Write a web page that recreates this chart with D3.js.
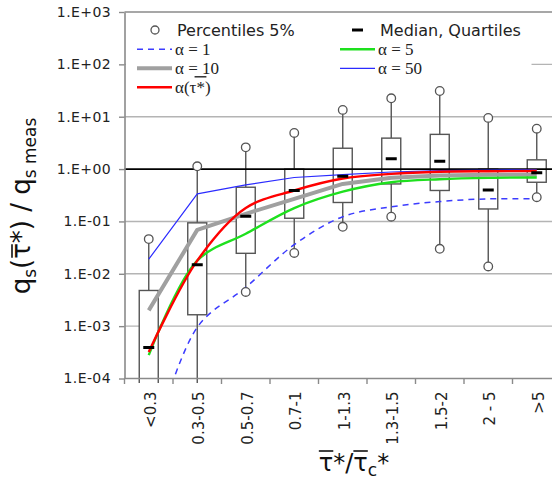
<!DOCTYPE html>
<html><head><meta charset="utf-8">
<script src="https://cdn.jsdelivr.net/npm/d3@7"></script>
<style>body{margin:0;background:#fff} svg{display:block}</style>
</head><body><svg id="c" width="552" height="483"></svg>
<script>
const categories = ["<0.3","0.3-0.5","0.5-0.7","0.7-1","1-1.3","1.3-1.5","1.5-2","2 - 5",">5"];
const pctHigh   = [0.046, 1.13, 2.6, 4.9, 13.5, 22.5, 31, 9.5, 5.9];
const quartHigh = [4.8e-3, 0.094, 0.45, 1.0, 2.5, 3.9, 4.6, 1.0, 1.5];
const medians   = [3.9e-4, 0.0149, 0.126, 0.39, 0.73, 1.57, 1.41, 0.40, 0.85];
const quartLow  = [5e-5, 1.65e-3, 0.0246, 0.115, 0.23, 0.52, 0.39, 0.173, 0.56];
const pctLow    = [1e-5, 5e-5, 4.5e-3, 0.025, 0.079, 0.123, 0.03, 0.0138, 0.29];
const alpha1   = [3e-6, 9.5e-4, 5.5e-3, 0.036, 0.123, 0.19, 0.24, 0.27, 0.27];
const alpha5   = [2.8e-4, 0.0178, 0.058, 0.18, 0.37, 0.56, 0.64, 0.68, 0.69];
const alpha10  = [2.0e-3, 0.069, 0.14, 0.27, 0.52, 0.68, 0.75, 0.78, 0.78];
const alpha50  = [0.019, 0.335, 0.50, 0.69, 0.78, 0.88, 0.93, 0.96, 0.97];
const alphaTau = [3.2e-4, 0.0178, 0.18, 0.39, 0.66, 0.81, 0.89, 0.91, 0.92];
const yTicks = [1e-4, 1e-3, 1e-2, 1e-1, 1, 10, 100, 1000];
const yTickLabels = ["1.E-04","1.E-03","1.E-02","1.E-01","1.E+00","1.E+01","1.E+02","1.E+03"];

const W = 552, H = 483;
const L = 124.5, T = 12, B = 378.5, band = 48.5;
const svg = d3.select("#c");
const x = d3.scaleBand().domain(categories).range([L, L + categories.length * band]).padding(0);
const cx = c => x(c) + x.bandwidth() / 2;
const y = d3.scaleLog().domain([1e-4, 1e3]).range([B, T]);

const defs = svg.append("defs");
defs.append("clipPath").attr("id", "lineClip").append("rect").attr("x", L).attr("y", T).attr("width", W - L).attr("height", B - T);
defs.append("clipPath").attr("id", "boxClip").append("rect").attr("x", L).attr("y", T).attr("width", W - L).attr("height", B - T + 4.5);

// gridlines
svg.append("g").selectAll("line").data(yTicks.filter(v => v !== 1 && v !== 1e-4 && v !== 1e3)).join("line")
  .attr("x1", L).attr("x2", W).attr("y1", d => y(d)).attr("y2", d => y(d))
  .attr("stroke", "#b4b4b4").attr("stroke-width", 1.4);
// top border
svg.append("line").attr("x1", L).attr("x2", W).attr("y1", y(1e3)).attr("y2", y(1e3)).attr("stroke", "#8a8a8a").attr("stroke-width", 1.6);

// legend background
svg.append("rect").attr("x", L + 1.5).attr("y", 15).attr("width", 530 - L).attr("height", 84).attr("fill", "#fff");

// boxes
const idx = categories.map((c, i) => i);
const gBox = svg.append("g").attr("clip-path", "url(#boxClip)");
gBox.selectAll("line.wu").data(idx).join("line")
  .attr("x1", i => cx(categories[i])).attr("x2", i => cx(categories[i]))
  .attr("y1", i => y(quartHigh[i])).attr("y2", i => y(pctHigh[i]))
  .attr("stroke", "#555").attr("stroke-width", 1.4);
gBox.selectAll("line.wl").data(idx).join("line")
  .attr("x1", i => cx(categories[i])).attr("x2", i => cx(categories[i]))
  .attr("y1", i => y(quartLow[i])).attr("y2", i => y(pctLow[i]))
  .attr("stroke", "#555").attr("stroke-width", 1.4);
gBox.selectAll("rect").data(idx).join("rect")
  .attr("x", i => cx(categories[i]) - 9.5).attr("width", 19)
  .attr("y", i => y(quartHigh[i])).attr("height", i => y(quartLow[i]) - y(quartHigh[i]))
  .attr("fill", "#fff").attr("stroke", "#555").attr("stroke-width", 1.4);

// reference line at 1
svg.append("line").attr("x1", L).attr("x2", W).attr("y1", y(1)).attr("y2", y(1)).attr("stroke", "#000").attr("stroke-width", 1.8);

// model lines
const gLines = svg.append("g").attr("clip-path", "url(#lineClip)");
const series = [
  {v: alpha1, color: "#3c3cff", w: 1.5, dash: "6,5", curve: d3.curveCatmullRom},
  {v: alpha50, color: "#2b2bff", w: 1.2, dash: null, curve: d3.curveLinear},
  {v: alpha10, color: "#a0a0a0", w: 4, dash: null, curve: d3.curveLinear},
  {v: alpha5, color: "#1ee01e", w: 2.4, dash: null, curve: d3.curveCatmullRom},
  {v: alphaTau, color: "#ff0000", w: 2.4, dash: null, curve: d3.curveCatmullRom}
];
series.forEach(s => {
  const line = d3.line().x((d, i) => cx(categories[i])).y(d => y(d)).curve(s.curve);
  gLines.append("path").attr("d", line(s.v)).attr("fill", "none").attr("stroke", s.color)
    .attr("stroke-width", s.w).attr("stroke-dasharray", s.dash).attr("stroke-linejoin", "round");
});

// percentile circles
const gC = svg.append("g").attr("clip-path", "url(#lineClip)");
gC.selectAll("circle.h").data(idx).join("circle").attr("cx", i => cx(categories[i])).attr("cy", i => y(pctHigh[i]))
  .attr("r", 4.3).attr("fill", "#fff").attr("stroke", "#555").attr("stroke-width", 1.3);
gC.selectAll("circle.l").data(idx).join("circle").attr("cx", i => cx(categories[i])).attr("cy", i => y(pctLow[i]))
  .attr("r", 4.3).attr("fill", "#fff").attr("stroke", "#555").attr("stroke-width", 1.3);
// medians
gC.selectAll("line.m").data(idx).join("line")
  .attr("x1", i => cx(categories[i]) - 5.5).attr("x2", i => cx(categories[i]) + 5.5)
  .attr("y1", i => y(medians[i])).attr("y2", i => y(medians[i]))
  .attr("stroke", "#000").attr("stroke-width", 3);

// y axis
const yAxis = d3.axisLeft(y).tickValues(yTicks).tickFormat((d, i) => yTickLabels[i]).tickSize(5.5).tickSizeOuter(0).tickPadding(8);
const gy = svg.append("g").attr("transform", `translate(${L},0)`).call(yAxis);
gy.select(".domain").attr("stroke", "#8a8a8a").attr("stroke-width", 1.6);
gy.selectAll(".tick line").attr("stroke", "#8a8a8a").attr("stroke-width", 1.4);
gy.selectAll(".tick text").attr("font-family", "DejaVu Sans").attr("font-size", 14).attr("fill", "#222").attr("letter-spacing", 0.4);

// x axis
svg.append("line").attr("x1", L).attr("x2", W).attr("y1", B).attr("y2", B).attr("stroke", "#8a8a8a").attr("stroke-width", 1.6);
svg.append("g").selectAll("line").data(categories).join("line")
  .attr("x1", c => x(c)).attr("x2", c => x(c)).attr("y1", B).attr("y2", B + 5.5)
  .attr("stroke", "#8a8a8a").attr("stroke-width", 1.4);
svg.append("g").selectAll("text").data(categories).join("text")
  .attr("transform", c => `translate(${cx(c) + 1.5},${B + 13}) rotate(-90)`)
  .attr("text-anchor", "end").attr("dy", "0.35em")
  .attr("font-family", "DejaVu Sans").attr("font-size", 15).attr("fill", "#222")
  .text(c => c);

// y title
const gyt = svg.append("g").attr("transform", "translate(30,206) rotate(-90)");
const yt = gyt.append("text").attr("text-anchor", "middle").attr("font-family", "DejaVu Sans").attr("font-size", 26).attr("fill", "#111");
yt.append("tspan").text("q");
yt.append("tspan").attr("font-size", 17).attr("dy", 6).text("s");
yt.append("tspan").attr("dy", -6).text("(τ*) / q");
yt.append("tspan").attr("font-size", 17).attr("dy", 6).text("s meas");
{
  const n = yt.node();
  const s = n.getStartPositionOfChar(3), e = n.getEndPositionOfChar(3);
  gyt.append("line").attr("x1", s.x + 1).attr("x2", e.x - 1).attr("y1", s.y - 18).attr("y2", s.y - 18).attr("stroke", "#111").attr("stroke-width", 1.6);
}

// x title
const xt = svg.append("text").attr("x", 354).attr("y", 471).attr("text-anchor", "middle")
  .attr("font-family", "DejaVu Sans").attr("font-size", 24).attr("fill", "#111");
xt.append("tspan").text("τ*/τ");
xt.append("tspan").attr("font-size", 17).attr("dy", 5).text("c");
xt.append("tspan").attr("dy", -5).text("*");
{
  const n = xt.node();
  [0, 3].forEach(k => {
    const s = n.getStartPositionOfChar(k), e = n.getEndPositionOfChar(k);
    svg.append("line").attr("x1", s.x).attr("x2", e.x).attr("y1", 451).attr("y2", 451).attr("stroke", "#111").attr("stroke-width", 1.6);
  });
}

// legend
const lg = svg.append("g");
lg.append("circle").attr("cx", 155).attr("cy", 30).attr("r", 4).attr("fill", "#fff").attr("stroke", "#555").attr("stroke-width", 1.3);
lg.append("text").attr("x", 177).attr("y", 35.5).attr("font-family", "DejaVu Sans").attr("font-size", 16).attr("fill", "#222").text("Percentiles 5%");
lg.append("line").attr("x1", 352).attr("x2", 363).attr("y1", 30).attr("y2", 30).attr("stroke", "#000").attr("stroke-width", 3);
lg.append("text").attr("x", 380).attr("y", 35.5).attr("font-family", "DejaVu Sans").attr("font-size", 16).attr("fill", "#222").text("Median, Quartiles");
const legItems = [
  {x: 137, y: 49.3, s: series[0], label: "α = 1"},
  {x: 340, y: 49.3, s: series[3], label: "α = 5"},
  {x: 137, y: 68.3, s: series[2], label: "α = 10"},
  {x: 340, y: 68.3, s: series[1], label: "α = 50"},
  {x: 137, y: 87.3, s: series[4], label: "α(τ*)"}
];
legItems.forEach(it => {
  lg.append("line").attr("x1", it.x).attr("x2", it.x + 35).attr("y1", it.y).attr("y2", it.y)
    .attr("stroke", it.s.color).attr("stroke-width", it.s.w).attr("stroke-dasharray", it.s.dash);
  const t = lg.append("text").attr("x", it.x + 38).attr("y", it.y + 5.7)
    .attr("font-family", "Liberation Serif").attr("font-size", 17).attr("fill", "#222").text(it.label);
  if (it.label.indexOf("τ") >= 0) {
    const n = t.node(), k = it.label.indexOf("τ");
    const s = n.getStartPositionOfChar(k), e = n.getEndPositionOfChar(k);
    lg.append("line").attr("x1", s.x + 5).attr("x2", e.x + 10).attr("y1", it.y - 10.5).attr("y2", it.y - 10.5)
      .attr("stroke", "#222").attr("stroke-width", 1.4);
  }
});
</script></body></html>
